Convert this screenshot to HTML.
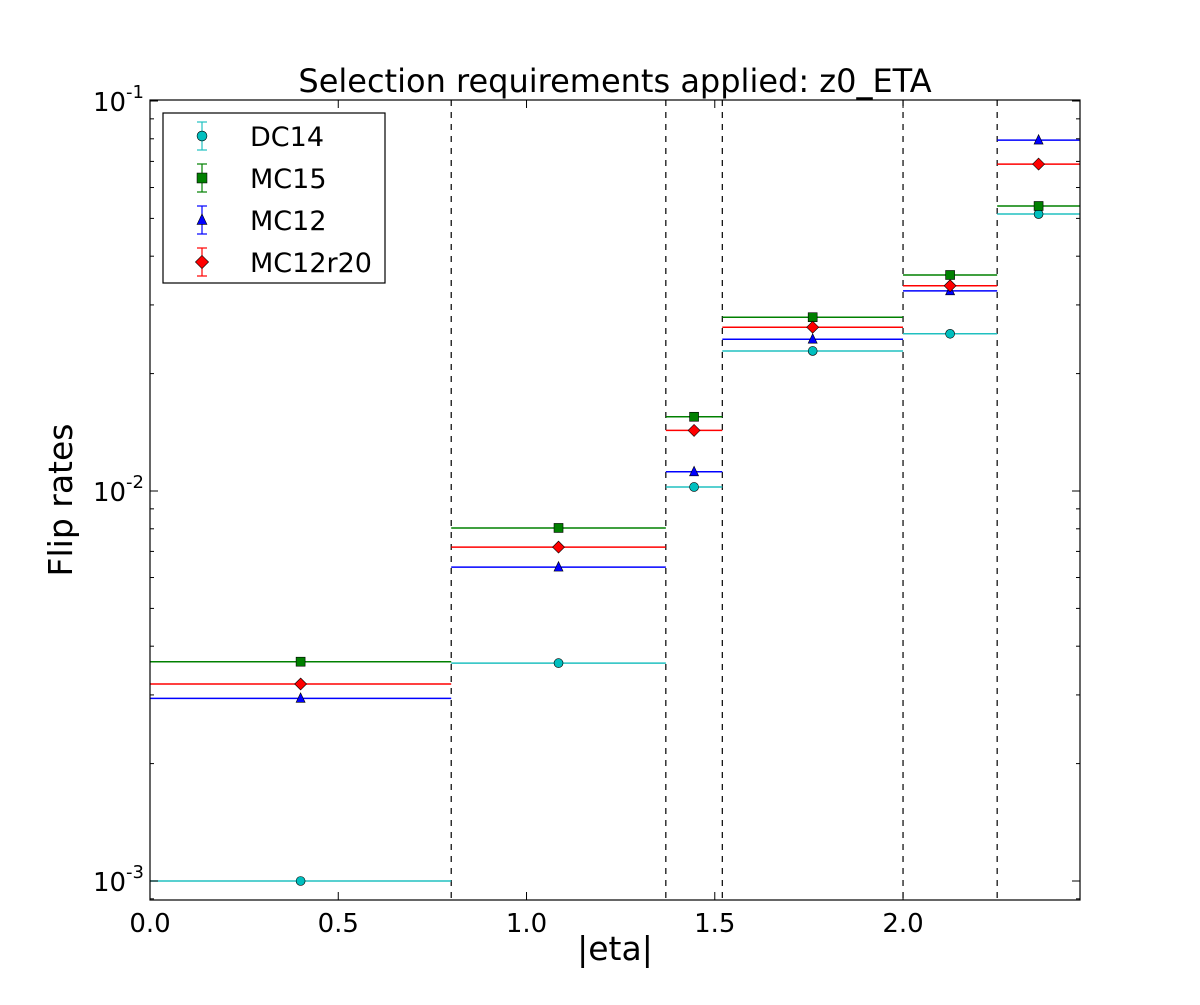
<!DOCTYPE html>
<html><head><meta charset="utf-8"><style>
body{margin:0;background:#fff;}
svg text{font-family:"DejaVu Sans","Liberation Sans",sans-serif;fill:#000;}
</style></head><body>
<svg id="chart" width="1200" height="1000" viewBox="0 0 1200 1000" xmlns="http://www.w3.org/2000/svg">
<rect width="1200" height="1000" fill="#fff"/>
<text x="615" y="92" font-size="32" text-anchor="middle">Selection requirements applied: z0_ETA</text>
<text x="615" y="960" font-size="33" text-anchor="middle">|eta|</text>
<text x="72" y="500" font-size="33" text-anchor="middle" transform="rotate(-90 72 500)">Flip rates</text>
<g id="plot"></g>
</svg>
<script>
const binEdges=[0,0.8,1.37,1.52,2.0,2.25,2.47];
const binCenters=[0.4,1.085,1.445,1.76,2.125,2.36];
const seriesNames=["DC14","MC15","MC12","MC12r20"];
const dc14=[0.001,0.00362,0.01024,0.02286,0.0253,0.0513];
const mc15=[0.00365,0.00804,0.0155,0.0279,0.0358,0.0538];
const mc12=[0.00294,0.00638,0.0112,0.0245,0.0326,0.0794];
const mc12r20=[0.0032,0.00718,0.0143,0.0263,0.0336,0.0689];
const xTicks=[0,0.5,1.0,1.5,2.0];
const xTickLabels=["0.0","0.5","1.0","1.5","2.0"];
const yDecades=[-3,-2,-1];
const dashedEdges=[0.8,1.37,1.52,2.0,2.25];

const L=150,R=1080,T=100,B=900,XMAX=2.47;
const X=v=>L+(v/XMAX)*(R-L);
const Y=v=>881-390*(Math.log10(v)+3);
const NS="http://www.w3.org/2000/svg";
const g=document.getElementById('plot');
function mk(tag,attrs,parent){const e=document.createElementNS(NS,tag);for(const k in attrs)e.setAttribute(k,attrs[k]);(parent||g).appendChild(e);return e;}

dashedEdges.forEach((d,i)=>{
 const e=mk('line',{x1:X(d),x2:X(d),y1:T,y2:B,stroke:'#000','stroke-width':1.2,'stroke-dasharray':'6,6'});
 
 
});

const colors=["#00bfbf","#008000","#0000ff","#ff0000"];
const lineColors=["#20c0c0","#008000","#0000ff","#ff0000"];
const allData=[dc14,mc15,mc12,mc12r20];
function marker(type,cx,cy,color,parent,s){
 s=s||1;
 if(type==0) return mk('circle',{cx:cx,cy:cy,r:4.5*s,fill:color,stroke:'#000','stroke-width':0.6},parent);
 if(type==1) return mk('rect',{x:cx-4.5*s,y:cy-4.5*s,width:9*s,height:9*s,fill:color,stroke:'#000','stroke-width':0.6},parent);
 if(type==2) return mk('polygon',{points:`${cx},${cy-5.5*s} ${cx+4.5*s},${cy+4*s} ${cx-4.5*s},${cy+4*s}`,fill:color,stroke:'#000','stroke-width':0.6},parent);
 return mk('polygon',{points:`${cx},${cy-6*s} ${cx+6*s},${cy} ${cx},${cy+6*s} ${cx-6*s},${cy}`,fill:color,stroke:'#000','stroke-width':0.6},parent);
}
allData.forEach((arr,si)=>{
 const sg=mk('g',{});
 
 
 arr.forEach((v,i)=>{
  const l=mk('line',{x1:X(binEdges[i]),x2:X(binEdges[i+1]),y1:Y(v),y2:Y(v),stroke:lineColors[si],'stroke-width':1.5},sg);
  
  
  const m=marker(si,X(binCenters[i]),Y(v),colors[si],sg);
  
  
 });
});

const fr=mk('rect',{x:L,y:T,width:R-L,height:B-T,fill:'none',stroke:'#000','stroke-width':1.2});



xTicks.forEach((t,i)=>{
 mk('line',{x1:X(t),x2:X(t),y1:B,y2:B-8,stroke:'#000'});
 mk('line',{x1:X(t),x2:X(t),y1:T,y2:T+8,stroke:'#000'});
 const tx=mk('text',{x:X(t),y:B+32,'font-size':26,'text-anchor':'middle'});
 tx.textContent=xTickLabels[i];
 
 
});
yDecades.forEach(d=>{
 const y=Y(Math.pow(10,d));
 mk('line',{x1:L,x2:L+8,y1:y,y2:y,stroke:'#000'});
 mk('line',{x1:R,x2:R-8,y1:y,y2:y,stroke:'#000'});
 const tx=mk('text',{x:L-6,y:y+10,'font-size':26,'text-anchor':'end'});
 
 
 tx.textContent='10';
 const sup=document.createElementNS(NS,'tspan');
 sup.setAttribute('dy','-13');sup.setAttribute('font-size','18');
 sup.textContent=String(d);tx.appendChild(sup);
 for(let k=2;k<=9;k++){
  const v=k*Math.pow(10,d);const yy=Y(v);
  if(yy<T||yy>B)continue;
  mk('line',{x1:L,x2:L+4,y1:yy,y2:yy,stroke:'#000'});
  mk('line',{x1:R,x2:R-4,y1:yy,y2:yy,stroke:'#000'});
 }
});
[9e-4].forEach(v=>{const yy=Y(v);if(yy<=B){mk('line',{x1:L,x2:L+4,y1:yy,y2:yy,stroke:'#000'});mk('line',{x1:R,x2:R-4,y1:yy,y2:yy,stroke:'#000'});}});

const lg=mk('g',{});


mk('rect',{x:163,y:113,width:222,height:170,fill:'#fff',stroke:'#000','stroke-width':1.2},lg);
seriesNames.forEach((n,i)=>{
 const y=136+i*42;
 const eg=mk('g',{},lg);
 
 
 mk('line',{x1:202,x2:202,y1:y-14,y2:y+14,stroke:lineColors[i],'stroke-width':1.2},eg);
 mk('line',{x1:197,x2:207,y1:y-14,y2:y-14,stroke:lineColors[i],'stroke-width':1.2},eg);
 mk('line',{x1:197,x2:207,y1:y+14,y2:y+14,stroke:lineColors[i],'stroke-width':1.2},eg);
 marker(i,202,y,colors[i],eg,1.1);
 const t=mk('text',{x:250,y:y+10,'font-size':27},eg);
 t.textContent=n;
});
</script>
</body></html>
